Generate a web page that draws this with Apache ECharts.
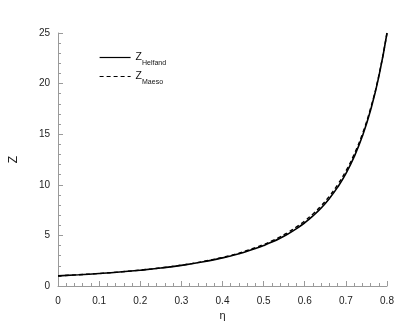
<!DOCTYPE html>
<html>
<head>
<meta charset="utf-8">
<script src="https://cdn.jsdelivr.net/npm/echarts@6/dist/echarts.min.js"></script>
<style>
  html, body { margin: 0; padding: 0; background: #fff; }
  #chart { width: 415px; height: 331px; }
</style>
</head>
<body>
<div id="chart"></div>
<script>
// packing fraction eta
const eta = [0, 0.05, 0.1, 0.15, 0.2, 0.25, 0.3, 0.35, 0.4, 0.42, 0.44, 0.46, 0.48, 0.5,
  0.52, 0.54, 0.56, 0.58, 0.6, 0.62, 0.64, 0.66, 0.68, 0.7, 0.72, 0.74, 0.76, 0.78, 0.8]
const zHelfand = [1.0, 1.108, 1.235, 1.384, 1.563, 1.778, 2.041, 2.367, 2.778, 2.973, 3.189,
  3.429, 3.698, 4.0, 4.34, 4.726, 5.165, 5.669, 6.25, 6.925, 7.716, 8.651, 9.766, 11.11,
  12.76, 14.79, 17.36, 20.66, 25.0]
const zMaeso = [1.0, 1.11, 1.24, 1.39, 1.57, 1.79, 2.06, 2.4, 2.82, 3.02, 3.25, 3.51, 3.79,
  4.1, 4.46, 4.86, 5.32, 5.84, 6.43, 7.12, 7.93, 8.88, 10.01, 11.36, 13.0, 15.01, 17.55,
  20.78, 25.0]

const pairs = (ys) => eta.map((x, i) => [x, ys[i]])

const axisGray = '#9a9a9a'
const font = 'Arial, "Liberation Sans", sans-serif'

const chart = echarts.init(document.getElementById('chart'))

const options = {
  animation: false,
  grid: { left: 55, right: 28, top: 33, bottom: 45 },
  legend: {
    left: 94,
    top: 47,
    orient: 'vertical',
    itemWidth: 31,
    itemHeight: 10,
    itemGap: 4,
    itemStyle: { opacity: 0 },
    lineStyle: { width: 1.2 },
    data: ['Helfand', 'Maeso'],
    formatter: (name) => '{z|Z}{s|' + name + '}',
    textStyle: {
      fontFamily: font,
      color: '#111',
      rich: {
        z: { fontSize: 10.5, lineHeight: 19, verticalAlign: 'middle', fontFamily: font, color: '#111' },
        s: { fontSize: 7, lineHeight: 7, verticalAlign: 'bottom', fontFamily: font, color: '#111' }
      }
    }
  },
  xAxis: {
    type: 'value',
    min: 0,
    max: 0.8,
    interval: 0.1,
    name: 'η',
    nameLocation: 'middle',
    nameGap: 24,
    nameTextStyle: { fontFamily: font, fontSize: 11, color: '#222' },
    axisLine: { lineStyle: { color: axisGray, width: 1 } },
    axisTick: { inside: true, length: 5, lineStyle: { color: axisGray } },
    minorTick: { show: true, splitNumber: 5, length: 3, lineStyle: { color: axisGray } },
    splitLine: { show: false },
    axisLabel: { fontFamily: font, fontSize: 10, color: '#222', margin: 10 }
  },
  yAxis: {
    type: 'value',
    min: 0,
    max: 25,
    interval: 5,
    name: 'Z',
    nameLocation: 'middle',
    nameRotate: 90,
    nameGap: 38,
    nameTextStyle: { fontFamily: font, fontSize: 12, color: '#222' },
    axisLine: { show: true, lineStyle: { color: axisGray, width: 1 } },
    axisTick: { show: true, inside: true, length: 5, lineStyle: { color: axisGray } },
    minorTick: { show: true, splitNumber: 5, length: 3, lineStyle: { color: axisGray } },
    splitLine: { show: false },
    axisLabel: { fontFamily: font, fontSize: 10, color: '#222', margin: 8 }
  },
  series: [
    {
      name: 'Helfand',
      type: 'line',
      data: pairs(zHelfand),
      smooth: true,
      showSymbol: false,
      symbol: 'none',
      lineStyle: { color: '#000', width: 1.6, type: 'solid' },
      itemStyle: { color: '#000' }
    },
    {
      name: 'Maeso',
      type: 'line',
      data: pairs(zMaeso),
      smooth: true,
      showSymbol: false,
      symbol: 'none',
      lineStyle: { color: '#000', width: 1.4, type: [4, 3] },
      itemStyle: { color: '#000' }
    }
  ]
}

chart.setOption(options)
</script>
</body>
</html>
